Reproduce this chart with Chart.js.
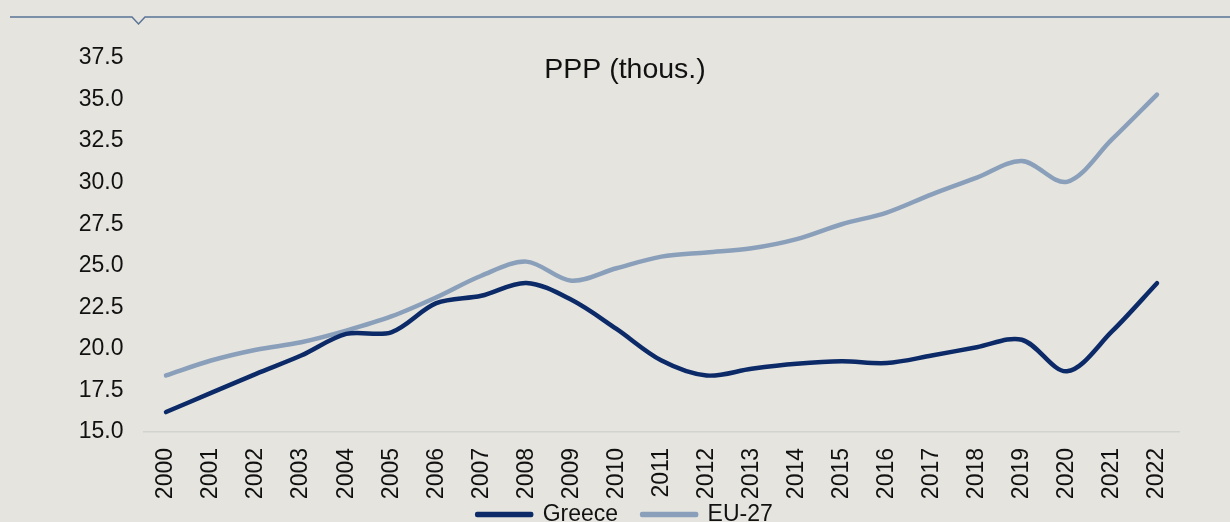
<!DOCTYPE html>
<html>
<head>
<meta charset="utf-8">
<script src="https://cdn.jsdelivr.net/npm/chart.js@4/dist/chart.umd.min.js"></script>
<style>
	html, body { margin: 0; padding: 0; background: #e5e4df; overflow: hidden; }
	#wrap { position: relative; width: 1230px; height: 557px; }
</style>
</head>
<body>
<div id="wrap"><canvas id="chart"></canvas></div>
<script>
const years = ['2000', '2001', '2002', '2003', '2004', '2005', '2006', '2007', '2008', '2009', '2010', '2011',
	'2012', '2013', '2014', '2015', '2016', '2017', '2018', '2019', '2020', '2021', '2022'];
const greece = [16.2, 17.35, 18.5, 19.6, 20.9, 21.0, 22.75, 23.2, 23.97, 22.95, 21.2, 19.3,
	18.4, 18.8, 19.1, 19.25, 19.15, 19.6, 20.1, 20.55, 18.65, 21.05, 23.95];
const eu27 = [18.4, 19.3, 19.95, 20.4, 21.1, 21.95, 23.1, 24.4, 25.25, 24.1, 24.85, 25.55,
	25.8, 26.05, 26.6, 27.5, 28.2, 29.3, 30.3, 31.3, 30.05, 32.6, 35.3];
const chartTitle = 'PPP (thous.)';

const fontFamily = '"Liberation Sans", Arial, sans-serif';
const greeceColor = '#0b2a67';
const euColor = '#8a9fba';

// title sits inside the plot area, and the thin header line with its notch
const decorPlugin = {
	id: 'decor',
	afterLayout(chart) {
		// legend padding doubles as the gap between items, so pull the legend up a bit
		if (chart.legend) {
			chart.legend.top -= 21;
			chart.legend.bottom -= 21;
		}
	},
	afterDraw(chart) {
		const ctx = chart.ctx;
		ctx.save();
		ctx.strokeStyle = '#5a7396';
		ctx.lineWidth = 1.5;
		ctx.beginPath();
		ctx.moveTo(10, 17);
		ctx.lineTo(132, 17);
		ctx.lineTo(138.5, 24);
		ctx.lineTo(145, 17);
		ctx.lineTo(1230, 17);
		ctx.stroke();

		ctx.fillStyle = '#111';
		ctx.font = `28.5px ${fontFamily}`;
		ctx.textAlign = 'center';
		ctx.textBaseline = 'middle';
		ctx.fillText(chartTitle, 625, 70);
		ctx.restore();
	}
};

const lineStyle = {
	borderWidth: 4.5,
	pointRadius: 0,
	pointHoverRadius: 0,
	tension: 0.33,
	borderCapStyle: 'round',
	borderJoinStyle: 'round',
	fill: false
};

new Chart(document.getElementById('chart'), {
	type: 'line',
	data: {
		labels: years,
		datasets: [
			{ label: 'Greece', data: greece, borderColor: greeceColor, backgroundColor: greeceColor, ...lineStyle },
			{ label: 'EU-27', data: eu27, borderColor: euColor, backgroundColor: euColor, ...lineStyle }
		]
	},
	options: {
		responsive: true,
		maintainAspectRatio: false,
		animation: false,
		devicePixelRatio: 1,
		layout: {
			padding: { top: 58, left: 70.5, right: 50.5, bottom: 0 }
		},
		plugins: {
			title: { display: false },
			tooltip: { enabled: false },
			legend: {
				position: 'bottom',
				labels: {
					font: { family: fontFamily, size: 23 },
					color: '#111',
					boxWidth: 54,
					boxHeight: 1,
					padding: 24
				}
			}
		},
		scales: {
			x: {
				offset: true,
				grid: { display: false },
				border: { display: true, color: '#d2d2cf', width: 1.5 },
				ticks: {
					font: { family: fontFamily, size: 23 },
					color: '#111',
					minRotation: 90,
					maxRotation: 90,
					padding: 8,
					autoSkip: false
				},
				afterFit: scale => { scale.height = 68; }
			},
			y: {
				min: 15,
				max: 37.5,
				grid: { display: false },
				border: { display: false },
				ticks: {
					stepSize: 2.5,
					font: { family: fontFamily, size: 23 },
					color: '#111',
					padding: 12,
					callback: v => v.toFixed(1)
				},
				afterFit: scale => { scale.width = 73; }
			}
		}
	},
	plugins: [decorPlugin]
});
</script>
</body>
</html>
